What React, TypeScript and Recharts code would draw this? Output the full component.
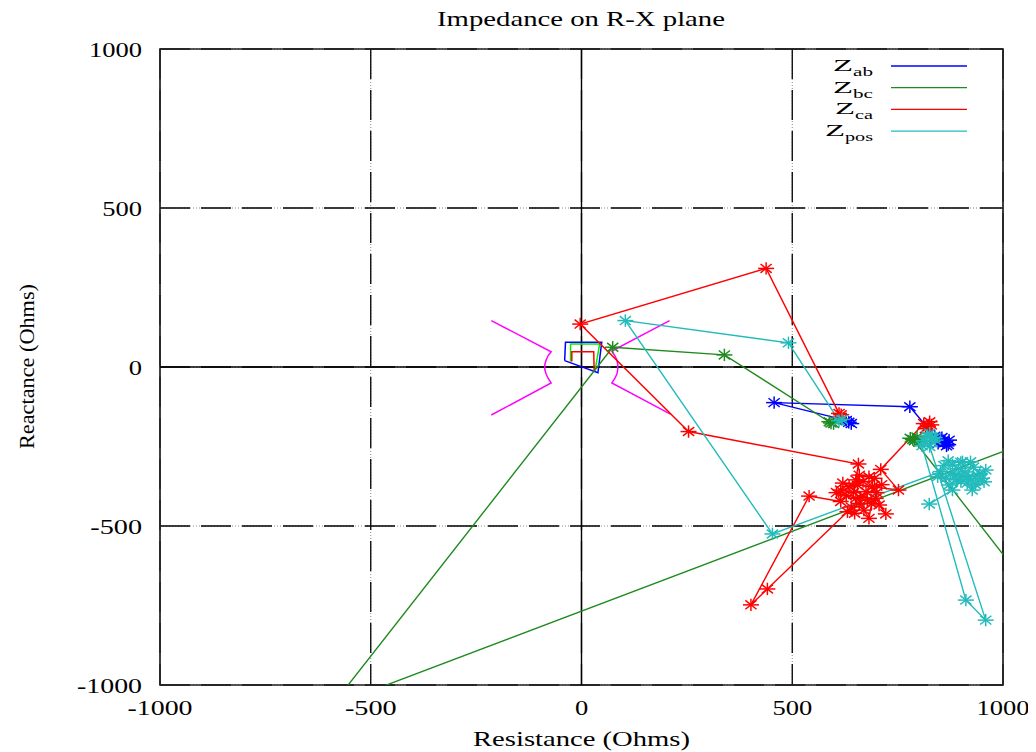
import React from "react"
import {
  ComposedChart,
  Line,
  XAxis,
  YAxis,
  CartesianGrid,
  ReferenceLine,
  ReferenceArea,
} from "recharts"

type Pt = [number, number]

// R (ohms), X (ohms) pairs, in the order the trajectories are drawn
const axisTicks = [-1000, -500, 0, 500, 1000]

const zabPoints: Pt[] = [
  [862, -238], [850, -228], [870, -244], [858, -232], [846, -240], [872, -230], [855, -222], [866, -248], [838, -218],
  [779, -125], [457, -112],
  [628, -168], [640, -178], [634, -174],
]

const zbcPoints: Pt[] = [
  [598, -178], [588, -172], [592, -176],
  [339, 38], [74, 62],
  [-592, -1065], [1300, -115], [1200, -929],
  [790, -232], [780, -224], [800, -236], [786, -228], [796, -220],
]

const zcaPoints: Pt[] = [
  [616, -150], [611, -146],
  [438, 310], [-3, 135], [254, -203],
  [657, -305], [651, -355], [668, -360], [635, -376], [655, -372], [615, -387], [645, -395], [659, -340],
  [682, -345], [695, -350], [675, -392], [700, -395], [690, -376], [712, -370], [662, -410], [651, -413],
  [628, -405], [605, -395], [615, -423],
  [540, -406], [402, -748], [441, -698],
  [631, -455], [648, -460], [640, -440], [659, -429], [670, -450], [682, -476], [688, -430], [678, -418],
  [698, -413], [722, -462], [706, -434], [620, -365], [752, -387],
  [710, -322],
  [812, -178], [822, -188], [830, -182], [816, -194], [826, -172],
]

const zposPoints: Pt[] = [
  [618, -165], [611, -169],
  [491, 76], [104, 146], [453, -525],
  [852, -329], [860, -310], [880, -308], [870, -295], [904, -298], [900, -300], [923, -298], [930, -315],
  [895, -320], [910, -330], [888, -340], [875, -335], [919, -345], [945, -335], [939, -340], [959, -324],
  [950, -350], [955, -361], [935, -370], [927, -387], [915, -365], [925, -355], [905, -345], [890, -355],
  [865, -350], [845, -345], [872, -371], [900, -360], [880, -387],
  [825, -431],
]

const zposLoadPoints: Pt[] = [
  [820, -215], [832, -225], [826, -208], [812, -232], [840, -230], [808, -248],
  [912, -733], [959, -796],
  [826, -250], [838, -222],
]

// relay zones near the origin
const zone1: Pt[] = [[-40, 20], [-38, 78], [48, 78], [39, -18], [-40, 20]]
const zone2: Pt[] = [[-26, 17], [-26, 72], [43, 72], [32, -12]]
const zone3: Pt[] = [[-23, 17], [-23, 48], [29, 48], [30, -10]]

// load blinders
const blinderLeft: Pt[] = [
  [-214, 146], [-72, 48], [-79, 36], [-84, 22], [-87, 8], [-87, -8], [-84, -22], [-79, -36], [-72, -50], [-214, -151],
]
const blinderRight: Pt[] = [
  [209, 146], [72, 50], [79, 36], [84, 22], [86, 8], [86, -8], [84, -22], [79, -36], [72, -50], [211, -148],
]

const BLUE = "#0000ff"
const GREEN = "#1f8a1f"
const RED = "#ff0000"
const CYAN = "#22bbbb"
const MAGENTA = "#ff00ff"
const FONT = '"Liberation Serif", "DejaVu Serif", serif'

const legendItems = [
  { sub: "ab", color: BLUE, subW: 20 },
  { sub: "bc", color: GREEN, subW: 20 },
  { sub: "ca", color: RED, subW: 18 },
  { sub: "pos", color: CYAN, subW: 28 },
]

const W = 1020
const H = 744

const rows = (pts: Pt[]) => pts.map(([re, im]) => ({ re, im }))

function labelWidth(s: string) {
  let w = 0
  for (const c of s) w += c === "-" ? 12 : 13.25
  return w
}

function YTick(props: any) {
  const { x, y, payload } = props
  const s = String(payload.value)
  const w = labelWidth(s)
  return (
    <text x={x - 18 - w} y={y + 7.5} fontFamily={FONT} fontSize={21} fill="#000" textLength={w} lengthAdjust="spacingAndGlyphs">
      {s}
    </text>
  )
}

function XTick(props: any) {
  const { x, y, payload } = props
  const s = String(payload.value)
  const w = labelWidth(s)
  return (
    <text x={x - w / 2} y={y + 30} fontFamily={FONT} fontSize={21} fill="#000" textLength={w} lengthAdjust="spacingAndGlyphs">
      {s}
    </text>
  )
}

const star = (color: string) => (props: any) => {
  const { cx, cy, index } = props
  if (cx == null || cy == null || Number.isNaN(cx) || Number.isNaN(cy)) return <g key={`s-${index}`} />
  const a = 8, b = 6.2, d = 5.6, e = 4.4
  return (
    <g key={`s-${index}`} stroke={color} strokeWidth={1.5}>
      <line x1={cx - a} y1={cy} x2={cx + a} y2={cy} />
      <line x1={cx} y1={cy - b} x2={cx} y2={cy + b} />
      <line x1={cx - d} y1={cy - e} x2={cx + d} y2={cy + e} />
      <line x1={cx - d} y1={cy + e} x2={cx + d} y2={cy - e} />
    </g>
  )
}

export default function App() {
  return (
    <div style={{ position: "relative", width: W, height: H }}>
      <ComposedChart width={W} height={H} margin={{ top: 41, right: 25, bottom: 27, left: 52 }}>
        <CartesianGrid stroke="#888" strokeWidth={1} strokeDasharray="1 2" />
        <CartesianGrid stroke="#000" strokeWidth={1.3} strokeDasharray="30 11" />
        <XAxis
          type="number"
          dataKey="re"
          domain={[-1000, 1000]}
          ticks={axisTicks}
          allowDataOverflow
          axisLine={false}
          tickLine={false}
          tickSize={0}
          tickMargin={0}
          height={40}
          tick={<XTick />}
        />
        <YAxis
          type="number"
          dataKey="im"
          domain={[-1000, 1000]}
          ticks={axisTicks}
          allowDataOverflow
          axisLine={false}
          tickLine={false}
          tickSize={0}
          tickMargin={0}
          width={100}
          tick={<YTick />}
        />
        <ReferenceLine x={0} stroke="#000" strokeWidth={1.4} />
        <ReferenceLine y={0} stroke="#000" strokeWidth={1.4} />
        <ReferenceArea x1={-1000} x2={1000} y1={-1000} y2={1000} fill="none" stroke="#222" strokeWidth={1.7} fillOpacity={0} />

        <Line data={rows(zone1)} dataKey="im" stroke={BLUE} strokeWidth={1.5} dot={false} activeDot={false} isAnimationActive={false} />
        <Line data={rows(zone2)} dataKey="im" stroke="#00ee00" strokeWidth={1.5} dot={false} activeDot={false} isAnimationActive={false} />
        <Line data={rows(zone3)} dataKey="im" stroke={RED} strokeWidth={1.5} dot={false} activeDot={false} isAnimationActive={false} />
        <Line data={rows(blinderLeft)} dataKey="im" stroke={MAGENTA} strokeWidth={1.5} dot={false} activeDot={false} isAnimationActive={false} />
        <Line data={rows(blinderRight)} dataKey="im" stroke={MAGENTA} strokeWidth={1.5} dot={false} activeDot={false} isAnimationActive={false} />

        <Line data={rows(zabPoints)} dataKey="im" stroke={BLUE} strokeWidth={1.4} dot={star(BLUE)} activeDot={false} isAnimationActive={false} />
        <Line data={rows(zbcPoints)} dataKey="im" stroke={GREEN} strokeWidth={1.4} dot={star(GREEN)} activeDot={false} isAnimationActive={false} />
        <Line data={rows(zcaPoints)} dataKey="im" stroke={RED} strokeWidth={1.4} dot={star(RED)} activeDot={false} isAnimationActive={false} />
        <Line data={rows(zposPoints)} dataKey="im" stroke={CYAN} strokeWidth={1.4} dot={star(CYAN)} activeDot={false} isAnimationActive={false} />
        <Line data={rows(zposLoadPoints)} dataKey="im" stroke={CYAN} strokeWidth={1.4} dot={star(CYAN)} activeDot={false} isAnimationActive={false} />
      </ComposedChart>

      <svg width={W} height={H} style={{ position: "absolute", left: 0, top: 0, pointerEvents: "none", overflow: "visible" }}>
        <text x={429} y={18} fontFamily={FONT} fontSize={21} fill="#000" textLength={288} lengthAdjust="spacingAndGlyphs">
          Impedance on R-X plane
        </text>
        <text x={465} y={738} fontFamily={FONT} fontSize={21} fill="#000" textLength={217} lengthAdjust="spacingAndGlyphs">
          Resistance (Ohms)
        </text>
        <text
          transform="translate(26, 441) rotate(-90)"
          x={0}
          y={0}
          fontFamily={FONT}
          fontSize={21}
          fill="#000"
          textLength={165}
          lengthAdjust="spacingAndGlyphs"
        >
          Reactance (Ohms)
        </text>
        {legendItems.map((it, i) => {
          const ly = 58 + i * 21.7
          const subX = 865 - it.subW
          return (
            <g key={it.sub}>
              <text x={subX - 20} y={ly + 5} fontFamily={FONT} fontSize={17} fill="#000" textLength={20} lengthAdjust="spacingAndGlyphs">
                Z
              </text>
              <text x={subX} y={ly + 10} fontFamily={FONT} fontSize={13} fill="#000" textLength={it.subW} lengthAdjust="spacingAndGlyphs">
                {it.sub}
              </text>
              <line x1={883} y1={ly} x2={959} y2={ly} stroke={it.color} strokeWidth={1.3} />
            </g>
          )
        })}
      </svg>
    </div>
  )
}
